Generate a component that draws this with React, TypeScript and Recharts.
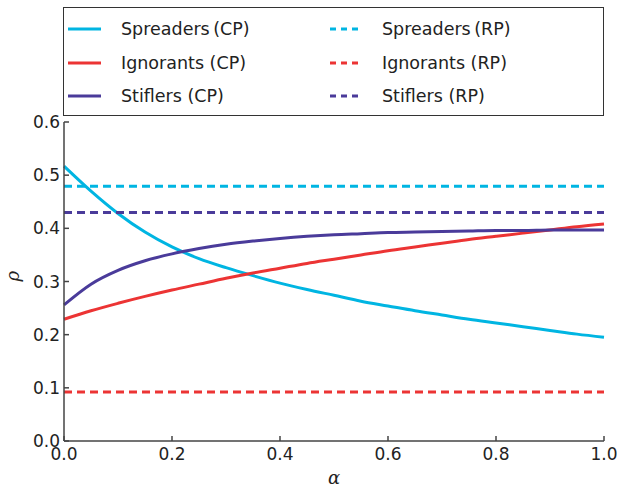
import { LineChart, Line, XAxis, YAxis, Label } from 'recharts';

const alpha = [0, 0.05, 0.1, 0.15, 0.2, 0.25, 0.3, 0.35, 0.4, 0.45, 0.5, 0.55, 0.6, 0.65, 0.7, 0.75, 0.8, 0.85, 0.9, 0.95, 1.0];
const spreadersCP = [0.517, 0.47, 0.428, 0.393, 0.365, 0.343, 0.326, 0.311, 0.297, 0.285, 0.274, 0.263, 0.254, 0.245, 0.237, 0.229, 0.222, 0.215, 0.208, 0.201, 0.195];
const ignorantsCP = [0.229, 0.245, 0.259, 0.272, 0.284, 0.295, 0.306, 0.316, 0.325, 0.334, 0.342, 0.35, 0.358, 0.365, 0.372, 0.379, 0.385, 0.391, 0.397, 0.403, 0.408];
const stiflersCP = [0.256, 0.295, 0.321, 0.339, 0.352, 0.362, 0.37, 0.376, 0.381, 0.385, 0.388, 0.39, 0.392, 0.393, 0.394, 0.395, 0.396, 0.396, 0.397, 0.397, 0.397];
const spreadersRP = 0.479;
const ignorantsRP = 0.092;
const stiflersRP = 0.43;

const xTicks = [0, 0.2, 0.4, 0.6, 0.8, 1.0];
const yTicks = [0, 0.1, 0.2, 0.3, 0.4, 0.5, 0.6];

const data = alpha.map((a, i) => ({
  a,
  sCP: spreadersCP[i],
  iCP: ignorantsCP[i],
  stCP: stiflersCP[i],
  sRP: spreadersRP,
  iRP: ignorantsRP,
  stRP: stiflersRP,
}));

const CYAN = '#00b5e2';
const RED = '#ec3434';
const PURPLE = '#4a3b9a';

const series = [
  { key: 'sCP', name: 'Spreaders\u2009(CP)', color: CYAN, dash: undefined },
  { key: 'iCP', name: 'Ignorants (CP)', color: RED, dash: undefined },
  { key: 'stCP', name: 'Stiflers (CP)', color: PURPLE, dash: undefined },
  { key: 'sRP', name: 'Spreaders\u2009(RP)', color: CYAN, dash: '8 5' },
  { key: 'iRP', name: 'Ignorants (RP)', color: RED, dash: '8 5' },
  { key: 'stRP', name: 'Stiflers (RP)', color: PURPLE, dash: '8 5' },
];

const font = 'DejaVu Sans, sans-serif';
const axisColor = '#444';
const tickStyle = { fontSize: 17, fill: '#222', fontFamily: font };

const App = () => {
  return (
    <div style={{ position: 'absolute', left: 0, top: 0, width: 617, height: 490, background: '#fff', fontFamily: font }}>
      <div
        style={{
          position: 'absolute',
          left: 63,
          top: 7,
          width: 541,
          height: 109,
          border: '1px solid #333',
          boxSizing: 'border-box',
        }}
      >
        {series.map((s, i) => {
          const col = i < 3 ? 0 : 1;
          const row = i % 3;
          return (
            <div
              key={s.key}
              style={{ position: 'absolute', left: col === 0 ? 2 : 264, top: 8 + row * 33.5, height: 26, display: 'flex', alignItems: 'center' }}
            >
              <svg width={40} height={10} style={{ marginRight: col === 0 ? 15 : 14 }}>
                <line x1={2} y1={5} x2={col === 0 ? 35 : 31} y2={5} stroke={s.color} strokeWidth={3} strokeDasharray={s.dash ? '6 5' : undefined} />
              </svg>
              <span style={{ fontSize: 17.5, color: '#222', whiteSpace: 'nowrap' }}>{s.name}</span>
            </div>
          );
        })}
      </div>
      <LineChart width={617} height={490} data={data} margin={{ top: 122, right: 13, bottom: 19, left: 0 }}>
        <XAxis
          dataKey="a"
          type="number"
          domain={[0, 1]}
          ticks={xTicks}
          tickFormatter={(v: number) => v.toFixed(1)}
          tickSize={-5}
          tickMargin={12}
          height={30}
          stroke={axisColor}
          strokeWidth={1.5}
          tick={tickStyle}
          interval={0}
        >
          <Label value="α" position="insideBottom" offset={-13} style={{ fontSize: 18, fill: '#222', fontStyle: 'italic', fontFamily: 'DejaVu Serif, serif' }} />
        </XAxis>
        <XAxis
          xAxisId="top"
          orientation="top"
          dataKey="a"
          type="number"
          domain={[0, 1]}
          ticks={xTicks}
          tickSize={-5}
          height={0}
          stroke={axisColor}
          strokeWidth={1.5}
          tick={false}
        />
        <YAxis
          type="number"
          domain={[0, 0.6]}
          ticks={yTicks}
          tickFormatter={(v: number) => v.toFixed(1)}
          tickSize={-5}
          tickMargin={9}
          width={64}
          stroke={axisColor}
          strokeWidth={1.5}
          tick={tickStyle}
          interval={0}
        >
          <Label value="ρ" angle={-90} position="insideLeft" offset={13} style={{ fontSize: 18, fill: '#222', fontStyle: 'italic', fontFamily: 'DejaVu Serif, serif' }} />
        </YAxis>
        <YAxis
          yAxisId="right"
          orientation="right"
          type="number"
          domain={[0, 0.6]}
          ticks={yTicks}
          tickSize={-5}
          width={0}
          stroke={axisColor}
          strokeWidth={1.5}
          tick={false}
        />
        {series.map((s) => (
          <Line
            key={s.key}
            type="monotone"
            dataKey={s.key}
            name={s.name}
            stroke={s.color}
            strokeWidth={3}
            strokeDasharray={s.dash}
            dot={false}
            activeDot={false}
            isAnimationActive={false}
          />
        ))}
      </LineChart>
    </div>
  );
};

export default App;
